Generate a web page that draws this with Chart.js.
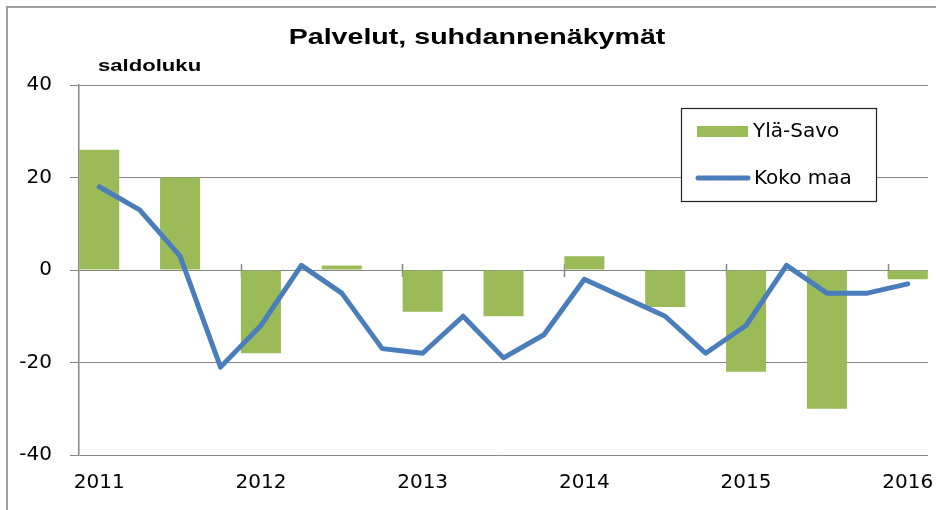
<!DOCTYPE html>
<html>
<head>
<meta charset="utf-8">
<script src="https://cdn.jsdelivr.net/npm/chart.js@4/dist/chart.umd.min.js"></script>
<style>
  html, body { margin: 0; padding: 0; background: #ffffff; }
  #wrap { width: 936px; height: 510px; position: relative; }
</style>
</head>
<body>
<div id="wrap"><canvas id="c" width="936" height="510"></canvas></div>
<script>
// ---- data ----
const quarterLabels = [
  '2011 I','2011 II','2011 III','2011 IV',
  '2012 I','2012 II','2012 III','2012 IV',
  '2013 I','2013 II','2013 III','2013 IV',
  '2014 I','2014 II','2014 III','2014 IV',
  '2015 I','2015 II','2015 III','2015 IV',
  '2016 I'
];
const yearTicks = ['2011','2012','2013','2014','2015','2016'];
const ylaSavo = [26,null,20,null,-18,null,1,null,-9,null,-10,null,3,null,-8,null,-22,null,-30,null,-2];
const kokoMaa = [18,13,3,-21,-12,1,-5,-17,-18,-10,-19,-14,-2,-6,-10,-18,-12,1,-5,-5,-3];
const titleText = 'Palvelut, suhdannenäkymät';
const unitText = 'saldoluku';
const seriesNames = ['Ylä-Savo', 'Koko maa'];

const GREEN = '#9BBB59';
const BLUE = '#4A7EBB';
const GRID = '#868686';

function scaledText(ctx, text, x, y, font, sx, align) {
  ctx.save();
  ctx.font = font;
  ctx.fillStyle = '#000';
  ctx.textBaseline = 'middle';
  const w = ctx.measureText(text).width * sx;
  let left = x;
  if (align === 'center') left = x - w / 2;
  ctx.translate(left, y);
  ctx.scale(sx, 1);
  ctx.textAlign = 'left';
  ctx.fillText(text, 0, 0);
  ctx.restore();
}

const decor = {
  id: 'decor',
  beforeDraw(chart) {
    const ctx = chart.ctx;
    ctx.save();
    ctx.fillStyle = '#fff';
    ctx.fillRect(0, 0, chart.width, chart.height);
    ctx.strokeStyle = '#a0a0a0';
    ctx.lineWidth = 2;
    ctx.strokeRect(7, 7, 1000, 1000);
    ctx.restore();
  },
  beforeDatasetsDraw(chart) {
    const ctx = chart.ctx;
    const xs = chart.scales.x, ys = chart.scales.y;
    const y0 = ys.getPixelForValue(0);
    ctx.save();
    ctx.strokeStyle = GRID;
    ctx.lineWidth = 1.5;
    for (let i = 4; i < quarterLabels.length; i += 4) {
      const xb = Math.round((xs.getPixelForValue(i - 1) + xs.getPixelForValue(i)) / 2) + 0.5;
      ctx.beginPath();
      ctx.moveTo(xb, y0 - 6);
      ctx.lineTo(xb, y0 + 7);
      ctx.stroke();
    }
    ctx.restore();
  },
  afterDraw(chart) {
    const ctx = chart.ctx;
    scaledText(ctx, titleText, 477, 38, 'bold 22px "Liberation Sans"', 1.3, 'center');
    scaledText(ctx, unitText, 98, 66, 'bold 17px "Liberation Sans"', 1.3, 'left');
    // legend
    ctx.save();
    ctx.fillStyle = '#fff';
    ctx.fillRect(681, 108, 195, 93);
    ctx.strokeStyle = '#222';
    ctx.lineWidth = 1.2;
    ctx.strokeRect(681.5, 108.5, 195, 93);
    const ds = chart.data.datasets;
    const bar = ds.find(d => d.type === 'bar');
    const line = ds.find(d => d.type === 'line');
    ctx.fillStyle = bar.backgroundColor;
    ctx.fillRect(697, 126, 51, 11);
    ctx.strokeStyle = line.borderColor;
    ctx.lineWidth = 5;
    ctx.lineCap = 'round';
    ctx.beginPath();
    ctx.moveTo(698, 178);
    ctx.lineTo(748, 178);
    ctx.stroke();
    ctx.fillStyle = '#000';
    ctx.font = '20px "DejaVu Sans"';
    ctx.textBaseline = 'middle';
    ctx.textAlign = 'left';
    ctx.fillText(bar.label, 753, 132);
    ctx.fillText(line.label, 754, 179);
    ctx.restore();
  }
};

new Chart(document.getElementById('c'), {
  type: 'bar',
  data: {
    labels: quarterLabels,
    datasets: [
      {
        type: 'line',
        label: seriesNames[1],
        data: kokoMaa,
        borderColor: BLUE,
        backgroundColor: BLUE,
        borderWidth: 5,
        pointRadius: 0,
        tension: 0,
        borderJoinStyle: 'round',
        borderCapStyle: 'round',
        order: 0
      },
      {
        type: 'bar',
        label: seriesNames[0],
        data: ylaSavo,
        backgroundColor: GREEN,
        borderWidth: 0,
        barPercentage: 1,
        categoryPercentage: 0.99,
        order: 1
      }
    ]
  },
  options: {
    responsive: false,
    devicePixelRatio: 1,
    animation: false,
    layout: { padding: { top: 85, right: 8, bottom: 0, left: 0 } },
    plugins: {
      legend: { display: false },
      title: { display: false },
      tooltip: { enabled: false }
    },
    scales: {
      x: {
        offset: true,
        grid: { display: false, drawTicks: false, tickLength: 0 },
        border: { display: false },
        ticks: {
          autoSkip: false,
          maxRotation: 0,
          padding: 16,
          color: '#000',
          font: { family: 'DejaVu Sans', size: 20 },
          callback: (v, i) => (i % 4 === 0 ? yearTicks[i / 4] : '')
        },
        afterFit: (s) => { s.height = 55; s.paddingLeft = 0; s.paddingRight = 0; }
      },
      y: {
        min: -40,
        max: 40,
        ticks: {
          stepSize: 20,
          padding: 18,
          color: '#000',
          font: { family: 'DejaVu Sans', size: 20 }
        },
        grid: { color: GRID, lineWidth: 1, tickLength: 9, drawTicks: true },
        border: { display: true, color: GRID, width: 1.5 },
        afterFit: (s) => { s.width = 79; s.paddingTop = 0; s.paddingBottom = 0; }
      }
    }
  },
  plugins: [decor]
});
</script>
</body>
</html>
